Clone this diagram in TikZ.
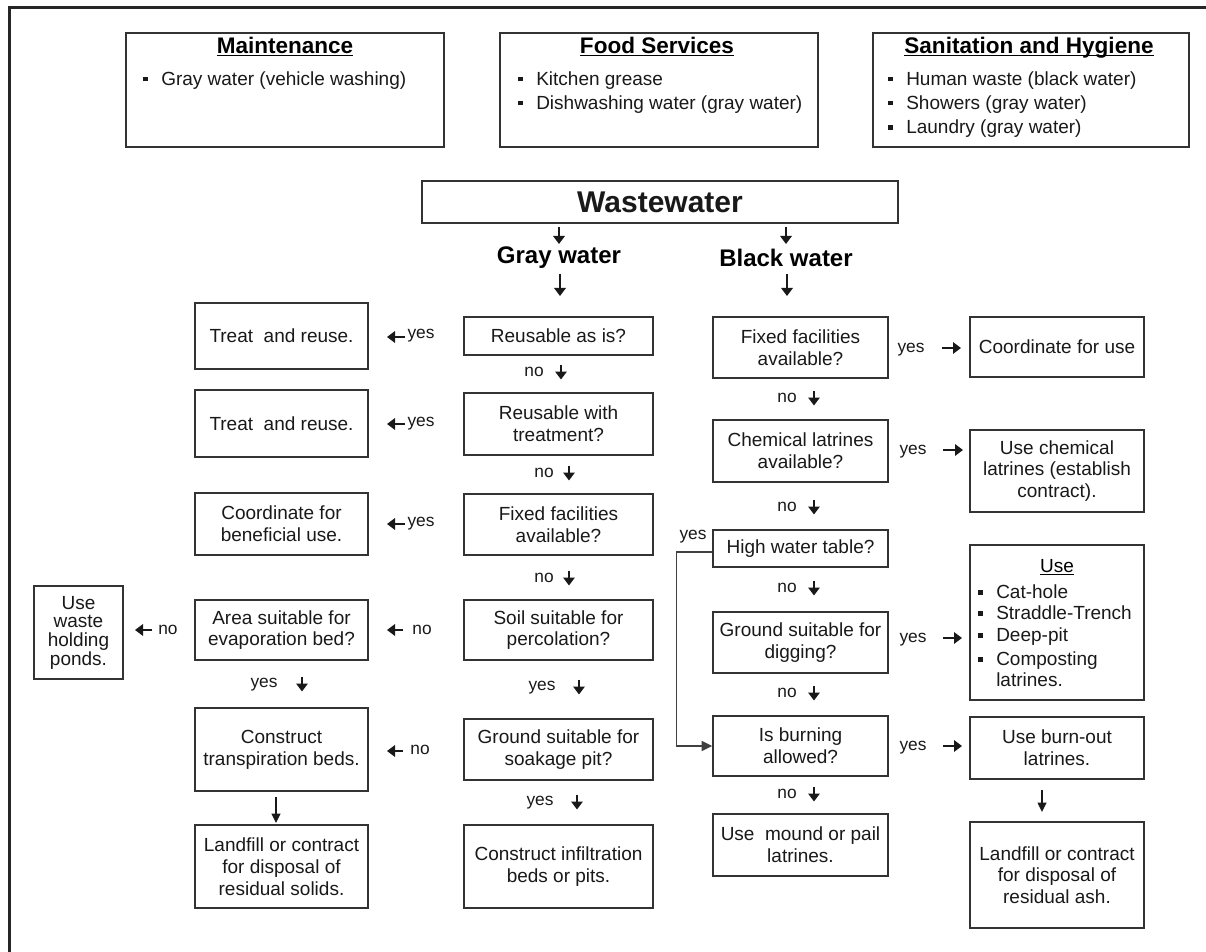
\documentclass[tikz,border=0pt]{standalone}
\usepackage{fontspec}
\setmainfont{Liberation Sans}
\usetikzlibrary{arrows.meta}
\newcommand\bodyf{\fontsize{14.25}{16.3}\selectfont}
\newcommand\lblf{\fontsize{13}{15}\selectfont}
\newcommand\ttlf{\fontsize{16.9}{19}\selectfont\bfseries}
\newcommand\wwf{\fontsize{22.5}{26}\selectfont\bfseries}
\newcommand\subf{\fontsize{18}{21}\selectfont\bfseries}
\newcommand\bulsq{\makebox[13.5pt][l]{\rule[3pt]{3.4pt}{3.4pt}}}
\newcommand\ulx[1]{\underline{\vphantom{M}\smash{#1}}}
\newcommand\bx[6]{\node[box, minimum width={(#4-#2)*0.75pt}, minimum height={(#5-#3)*0.75pt}] (#1) at ({(#2+#4)/2},{(#3+#5)/2}) {#6};}
\newcommand\lb[3]{\node[lbl] at (#1,#2+4.5) {#3};}
\newcommand\dar[2]{\draw[sarr] (#1,#2-7.5) -- (#1,#2+7.5);}
\newcommand\lar[3]{\draw[sarr] (#1,#3) -- (#2,#3);}
\begin{document}
\begin{tikzpicture}[x=0.75pt,y=-0.75pt,
  box/.style={draw=black!80, line width=1.1pt, inner sep=0pt, align=center, font=\bodyf, text=black!90},
  lbl/.style={font=\lblf, inner sep=0pt, anchor=base, text=black!90},
  bul/.style={font=\bodyf, inner sep=0pt, anchor=base west, text=black!90},
  sarr/.style={line width=2pt, draw=black!90, -{Triangle[width=8.5pt,length=6pt]}},
  tarr/.style={line width=1.1pt, draw=black!90, -{Triangle[width=6.5pt,length=7pt]}},
  conn/.style={line width=1.1pt, draw=black!75, -{Triangle[width=7.5pt,length=8pt]}}]
\useasboundingbox (0,0) rectangle (1206,952);
\fill[white] (0,0) rectangle (1206,952);
% frame
\draw[line width=2.2pt, black!85] (9.5,952) -- (9.5,7.5) -- (1206,7.5);

% top boxes
\bx{maint}{126}{33}{444}{147}{}
\node[font=\ttlf, inner sep=0pt] (maintT) at (285,47) {\ulx{Maintenance}};
\node[bul] (mb1) at (143,85.5) {\bulsq Gray water (vehicle washing)};

\bx{food}{500}{33}{818}{147}{}
\node[font=\ttlf, inner sep=0pt] (foodT) at (657,47) {\ulx{Food Services}};
\node[bul] (fb1) at (518,85.5) {\bulsq Kitchen grease};
\node[bul] (fb2) at (518,109.5) {\bulsq Dishwashing water (gray water)};

\bx{san}{873}{33}{1189}{147}{}
\node[font=\ttlf, inner sep=0pt] (sanT) at (1029,47) {\ulx{Sanitation and Hygiene}};
\node[bul] (sb1) at (888,85.5) {\bulsq Human waste (black water)};
\node[bul] (sb2) at (888,109.5) {\bulsq Showers (gray water)};
\node[bul] (sb3) at (888,134) {\bulsq Laundry (gray water)};

% wastewater
\bx{ww}{422}{181}{898}{223}{\wwf Wastewater}
\draw[sarr] (559,227) -- (559,244);
\draw[sarr] (786,227) -- (786,244);
\node[font=\subf, inner sep=0pt] (gw) at (559,258) {Gray water};
\node[font=\subf, inner sep=0pt] (bw) at (786,258) {Black water};
\draw[sarr] (560,274) -- (560,296);
\draw[sarr] (787,274) -- (787,296);

% gray column
\bx{g1}{464}{317}{653}{355}{Reusable as is?}
\bx{g2}{464}{393}{653}{455}{Reusable with\\treatment?}
\bx{g3}{464}{494}{653}{555}{Fixed facilities\\available?}
\bx{g4}{464}{600}{653}{660}{Soil suitable for\\percolation?}
\bx{g5}{464}{719}{653}{780}{Ground suitable for\\soakage pit?}
\bx{g6}{464}{825}{653}{908}{Construct infiltration\\beds or pits.}
\lb{534}{372}{no}\dar{561}{372}
\lb{544}{473}{no}\dar{569}{473}
\lb{544}{578}{no}\dar{569}{578}
\lb{542}{686}{yes}\dar{579}{687}
\lb{540}{801}{yes}\dar{577}{802}

% left column
\bx{l1}{195}{303}{368}{369}{Treat\ \ and reuse.}
\bx{l2}{195}{390}{368}{457}{Treat\ \ and reuse.}
\bx{l3}{195}{493}{368}{555}{Coordinate for\\beneficial use.}
\bx{l4}{195}{600}{368}{660}{Area suitable for\\evaporation bed?}
\bx{l5}{195}{708}{368}{791}{Construct\\transpiration beds.}
\bx{l6}{195}{825}{368}{908}{Landfill or contract\\for disposal of\\residual solids.}
\node[box, font=\fontsize{14.25}{14}\selectfont, minimum width=66.75pt, minimum height=69.75pt] (uw) at (78.5,632.5) {Use\\waste\\holding\\ponds.};
\lar{405}{387}{337}\lb{421}{334}{yes}
\lar{405}{387}{424}\lb{421}{422}{yes}
\lar{405}{387}{524}\lb{421}{522}{yes}
\lar{403}{387}{630}\lb{422}{630}{no}
\lar{403}{387}{751}\lb{420}{750}{no}
\lar{152}{135}{630}\lb{168}{630}{no}
\lb{264}{683}{yes}\dar{302}{684}
\draw[tarr] (276,797) -- (276,823);

% black column
\bx{b1}{713}{317}{888}{378}{Fixed facilities\\available?}
\bx{b2}{713}{420}{888}{482}{Chemical latrines\\available?}
\bx{b3}{713}{530}{888}{567}{High water table?}
\bx{b4}{713}{612}{888}{673}{Ground suitable for\\digging?}
\bx{b5}{713}{716}{888}{776}{Is burning\\allowed?}
\bx{b6}{713}{814}{888}{876}{Use\ \ mound or pail\\latrines.}
\lb{787}{398}{no}\dar{814}{398}
\lb{787}{507}{no}\dar{814}{507}
\lb{787}{588}{no}\dar{814}{588}
\lb{787}{693}{no}\dar{814}{693}
\lb{787}{794}{no}\dar{814}{794}
\lb{693}{535}{yes}
\draw[conn] (b3.west) ++(0,3.5) -- ++(-36,0) |- (b5.west);

% right column
\bx{r1}{970}{317}{1144}{377}{Coordinate for use}
\bx{r2}{970}{430}{1144}{512}{Use chemical\\latrines (establish\\contract).}
\bx{r3}{970}{545}{1144}{700}{}
\node[font=\bodyf, inner sep=0pt] (useT) at (1057,567) {\ulx{Use}};
\node[bul] (u1) at (978,598.5) {\bulsq Cat-hole};
\node[bul] (u2) at (978,619.5) {\bulsq Straddle-Trench};
\node[bul] (u3) at (978,641.5) {\bulsq Deep-pit};
\node[bul] (u4) at (978,665.5) {\bulsq Composting};
\node[bul] (u5) at (996,686.5) {latrines.};
\bx{r4}{970}{717}{1144}{779}{Use burn-out\\latrines.}
\bx{r5}{970}{822}{1144}{928}{Landfill or contract\\for disposal of\\residual ash.}
\lb{911}{348}{yes}\lar{942}{961}{348}
\lb{913}{450}{yes}\lar{943}{963}{450}
\lb{913}{638}{yes}\lar{943}{962}{638}
\lb{913}{746}{yes}\lar{943}{962}{746}
\draw[tarr] (1042,790) -- (1042,812);
\end{tikzpicture}
\end{document}
